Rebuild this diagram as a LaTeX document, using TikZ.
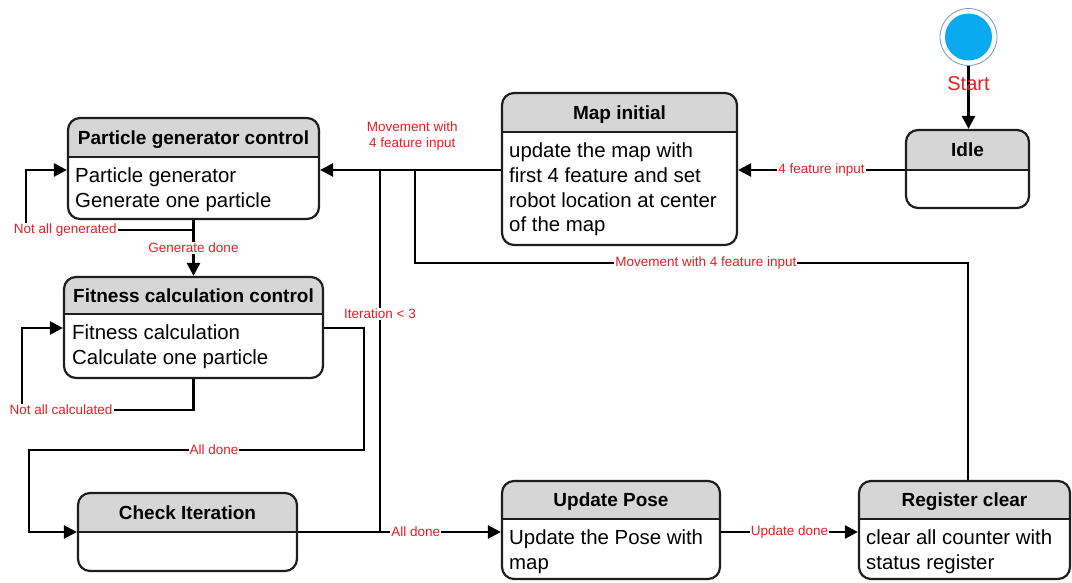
\documentclass[tikz,border=0pt]{standalone}
\usepackage{fontspec}
\setmainfont{Liberation Sans}
\usetikzlibrary{arrows.meta}
\definecolor{hdrgray}{RGB}{214,214,214}
\definecolor{boxline}{RGB}{30,30,30}
\definecolor{lblred}{RGB}{232,30,38}
\definecolor{startblue}{RGB}{10,170,238}
\definecolor{startring}{RGB}{120,150,200}
\newcommand\stbox[7]{%
  \begin{scope}
    \clip (#2-3,#3-3) rectangle (#4+3,#6);
    \fill[hdrgray, rounded corners=12pt] (#2,#3) rectangle (#4,#5);
  \end{scope}
  \node[box, minimum width={#4-#2}, minimum height={#5-#3}] (#1) at ({(#2+#4)/2},{(#3+#5)/2}) {};
  \draw[divline] (#2,#6) -- (#4,#6);
  \node[hdrtxt] (#1-t) at ({(#2+#4)/2},{(#3+#6)/2+6.8}) {#7};
}
\begin{document}
\begin{tikzpicture}[x=1pt,y=-1pt,
  box/.style={draw=boxline, line width=2.2pt, rounded corners=12pt, inner sep=0pt},
  divline/.style={draw=boxline, line width=2.2pt},
  hdrtxt/.style={font=\fontsize{19}{22}\selectfont\bfseries, anchor=base, text=black},
  bodytxt/.style={font=\fontsize{20.4}{24.7}\selectfont, anchor=north west, align=left, inner sep=0pt, text=black},
  conn/.style={line width=2.6pt, draw=black},
  arr/.style={conn, -{Triangle[length=13pt,width=13pt]}},
  lbl/.style={font=\fontsize{13.5}{16.5}\selectfont, text=lblred, fill=white, inner sep=1pt},
]
\useasboundingbox (0,0) rectangle (1072,583);
\fill[white] (0,0) rectangle (1072,583);

% states
\stbox{pgc}{68}{118}{319}{219}{157}{Particle generator control}
\stbox{fcc}{64}{277}{323}{378}{314}{Fitness calculation control}
\stbox{ci}{78}{493}{297}{571}{532}{Check Iteration}
\stbox{mapi}{502}{93}{737}{245}{132}{Map initial}
\stbox{idle}{906}{130}{1029}{208}{170}{Idle}
\stbox{up}{502}{481}{720}{579}{519}{Update Pose}
\stbox{rc}{859}{481}{1070}{579}{519}{Register clear}

\node[bodytxt] (pgc-b) at (75,157+8.2) {\strut Particle generator\\\strut Generate one particle};
\node[bodytxt] (fcc-b) at (72,314+8.2) {\strut Fitness calculation\\\strut Calculate one particle};
\node[bodytxt] (mapi-b) at (509,132+8.2) {\strut update the map with\\\strut first 4 feature and set\\\strut robot location at center\\\strut of the map};
\node[bodytxt] (up-b) at (509,519+8.2) {\strut Update the Pose with\\\strut map};
\node[bodytxt] (rc-b) at (866,519+8.2) {\strut clear all counter with\\\strut status register};

% start
\node[circle, draw=startring, line width=0.8pt, fill=white, minimum size=57pt, inner sep=0pt] (start) at (968.5,37) {};
\node[circle, fill=startblue, minimum size=47pt, inner sep=0pt] (startin) at (start.center) {};

% helper coordinates
\coordinate (r170) at (0,170);
\coordinate (r328) at (0,328);
\coordinate (r532) at (0,532);
\coordinate (j1) at (415,170);
\coordinate (j2) at (380,170);
\coordinate (j3) at (380,532);
\coordinate (b1) at (968,263);
\coordinate (cL1) at (26,230);
\coordinate (cL2) at (22,410);
\coordinate (cR) at (364,450);
\coordinate (cL3) at (29,450);

% connectors
\draw[arr] (start.south) -- node[pos=0.28, font=\fontsize{20}{24}\selectfont, text=lblred, inner sep=0pt] {Start} (start.south |- idle.north);
\draw[arr] (idle.west |- r170) -- node[lbl] {4 feature input} (mapi.east |- r170);
\draw[arr] (mapi.west |- r170) -- node[lbl, fill=none, align=center, pos=0.49, anchor=south, yshift=17pt] {Movement with\\4 feature input} (pgc.east |- r170);
\draw[conn] (rc.north -| b1) -- (b1) -- node[lbl, pos=0.474] {Movement with 4 feature input} (j1 |- b1) -- (j1);
\draw[conn] (ci.east |- r532) -- (j3) -- node[lbl, pos=0.602] {Iteration < 3} (j2);
\draw[arr] (ci.east |- r532) -- node[lbl, pos=0.58] {All done} (up.west |- r532);
\draw[arr] (up.east |- r532) -- node[lbl] {Update done} (rc.west |- r532);
\draw[arr] (pgc.south) -- node[lbl] {Generate done} (fcc.north);
\draw[arr] (pgc.south) -- (pgc.south |- cL1) -- node[lbl, pos=0.766] {Not all generated} (cL1) -- (cL1 |- r170) -- (pgc.west |- r170);
\draw[arr] (fcc.south) -- (fcc.south |- cL2) -- node[lbl, pos=0.772] {Not all calculated} (cL2) -- (cL2 |- r328) -- (fcc.west |- r328);
\draw[arr] (fcc.east |- r328) -- (cR |- r328) -- (cR) -- node[lbl, pos=0.448] {All done} (cL3) -- (cL3 |- r532) -- (ci.west |- r532);
\end{tikzpicture}
\end{document}
